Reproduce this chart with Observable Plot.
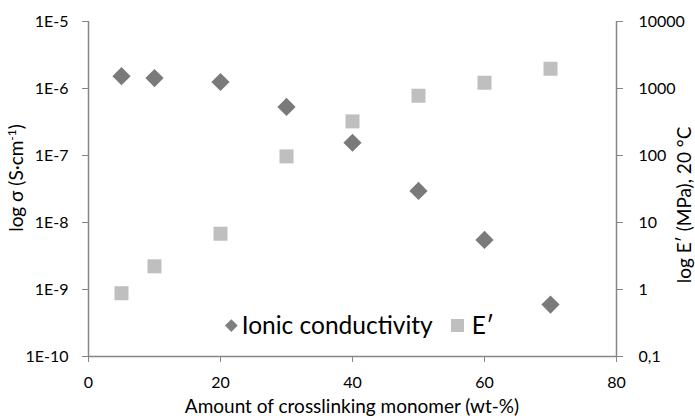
<!DOCTYPE html>
<html>
<head>
<meta charset="utf-8">
<script src="https://cdn.jsdelivr.net/npm/d3@7"></script>
<script src="https://cdn.jsdelivr.net/npm/@observablehq/plot@0.6"></script>
<style>
  body { margin: 0; background: #fff; font-family: Lato, "Open Sans", sans-serif; }
  #chart { position: relative; width: 695px; height: 416px; }
  #chart svg { position: absolute; left: 0; top: 0; }
  .title { position: absolute; font-size: 19px; color: #000; white-space: nowrap; line-height: 1; }
  .title sup { font-size: 12px; vertical-align: 7px; }
  .rot { transform: translate(-50%, -50%) rotate(-90deg); }
  .legend { position: absolute; left: 225px; top: 312px; display: flex; align-items: center; font-size: 24.5px; color: #000; line-height: 26px; }
  .legend .diamond { width: 8.7px; height: 8.7px; background: #7f7f7f; transform: rotate(45deg); margin: 0 6px 0 2px; }
  .legend .square { width: 13px; height: 13px; background: #bfbfbf; margin: 0 8px 0 18px; }
</style>
</head>
<body>
<div id="chart"></div>
<script>
// Crosslinker content (wt-%) and the two measured properties
const crosslinker = [5, 10, 20, 30, 40, 50, 60, 70];
const conductivity = [1.53e-6, 1.43e-6, 1.25e-6, 5.3e-7, 1.55e-7, 2.96e-8, 5.5e-9, 5.96e-10]; // S/cm
const modulus = [0.88, 2.22, 6.8, 97, 323, 780, 1219, 1971]; // MPa at 20 °C

const xTicks = [0, 20, 40, 60, 80];
const sigmaTicks = [1e-10, 1e-9, 1e-8, 1e-7, 1e-6, 1e-5];
const modulusTicks = [0.1, 1, 10, 100, 1000, 10000];

// The modulus axis spans the same five decades, offset by 1e9 from the conductivity axis
const offset = 1e-9;

const rows = crosslinker.map((x, i) => ({x, sigma: conductivity[i], E: modulus[i]}));

const axisGray = "#868686";

const plot = Plot.plot({
  width: 695,
  height: 416,
  marginLeft: 88,
  marginRight: 79,
  marginTop: 21,
  marginBottom: 60,
  style: {fontFamily: "Lato, 'Open Sans', sans-serif", fontSize: "16px", color: "#000", background: "#fff"},
  x: {domain: [0, 80]},
  y: {type: "log", domain: [1e-10, 1e-5]},
  marks: [
    Plot.axisX(xTicks, {tickSize: 6, tickPadding: 14, stroke: axisGray, fill: "#000", label: null}),
    Plot.axisY(sigmaTicks, {anchor: "left", tickSize: 6, tickPadding: 14, stroke: axisGray, fill: "#000",
      tickFormat: d => "1E" + Math.round(Math.log10(d)), label: null}),
    Plot.axisY(modulusTicks.map(v => v * offset), {anchor: "right", tickSize: 6, tickPadding: 16, stroke: axisGray, fill: "#000",
      tickFormat: d => String(Math.round(d / offset * 10) / 10).replace(".", ","), label: null}),
    Plot.ruleX([0, 80], {stroke: axisGray, strokeWidth: 1.5}),
    Plot.ruleY([1e-10], {stroke: axisGray, strokeWidth: 1.5}),
    Plot.dot(rows, {x: "x", y: d => d.E * offset, symbol: "square", r: 7.9, fill: "#bfbfbf", stroke: "none"}),
    Plot.dot(rows, {x: "x", y: "sigma", symbol: "diamond2", r: 8.2, fill: "#7a7a7a", stroke: "none"})
  ]
});

const chart = document.getElementById("chart");
chart.appendChild(plot);
chart.insertAdjacentHTML("beforeend", `
  <div class="title rot" style="left:15px; top:178px">log σ (S·cm<sup>-1</sup>)</div>
  <div class="title rot" style="left:683px; top:205px">log E′ (MPa), 20 °C</div>
  <div class="title" style="left:352px; top:405px; transform: translate(-50%, -50%)">Amount of crosslinking monomer (wt-%)</div>
  <div class="legend"><span class="diamond"></span><span>Ionic conductivity</span><span class="square"></span><span>E′</span></div>
`);
</script>
</body>
</html>
